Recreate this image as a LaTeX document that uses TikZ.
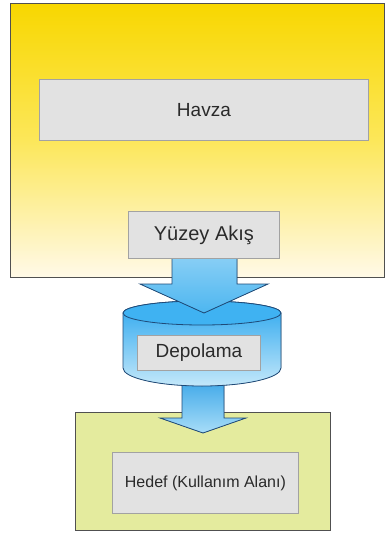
\documentclass[tikz,border=0pt]{standalone}
\usepackage{fontspec}
\setmainfont{Liberation Sans}
\definecolor{ytop}{HTML}{F8D700}
\definecolor{ymid}{HTML}{FCE75A}
\definecolor{ybot}{HTML}{FFF9E8}
\definecolor{boxfill}{HTML}{E2E2E2}
\definecolor{boxline}{HTML}{A2A2A2}
\definecolor{frameline}{HTML}{505050}
\definecolor{greenfill}{HTML}{E4EB9E}
\definecolor{navy}{HTML}{1F4A78}
\definecolor{txt}{HTML}{2A2A2A}
\definecolor{aonetop}{HTML}{9AD6F7}
\definecolor{aonebot}{HTML}{4DB6F0}
\definecolor{atwotop}{HTML}{2FA0E6}
\definecolor{atwobot}{HTML}{A8DDF8}
\definecolor{cyltop}{HTML}{2AA6EE}
\definecolor{cylbot}{HTML}{C4E8FA}
\definecolor{cylcap}{HTML}{3FB2F2}
\begin{document}
\begin{tikzpicture}[x=1pt,y=1pt,
  labelbox/.style={draw=boxline,fill=boxfill,line width=0.8pt,anchor=north west,inner sep=0pt,text=txt},
  blockarrow/.style={draw=navy,line width=0.8pt,line join=miter}]
\useasboundingbox (0,0) rectangle (386,-533);
\fill[white] (0,0) rectangle (386,-533);
% top basin frame
\node[draw=frameline,line width=1pt,top color=ytop,bottom color=ybot,middle color=ymid,
  minimum width=374pt,minimum height=274pt,anchor=north west,inner sep=0pt] (basin) at (10,-3) {};
\node[labelbox,minimum width=329pt,minimum height=61pt] (havza) at (39,-79)
  {\fontsize{19}{22}\selectfont Havza};
% bottom target frame
\node[draw=frameline,line width=1pt,fill=greenfill,
  minimum width=255pt,minimum height=118pt,anchor=north west,inner sep=0pt] (target) at (75,-412) {};
% arrow 2
\filldraw[blockarrow,top color=atwotop,bottom color=atwobot]
  (182,-372) -- (182,-418) -- (160,-418) -- (203,-433) -- (246,-418) -- (224,-418) -- (224,-372) -- cycle;
% cylinder
\filldraw[draw=navy,line width=0.8pt,top color=cyltop,bottom color=cylbot]
  (123,-313) -- (123,-368) arc[start angle=180,end angle=360,x radius=79,y radius=18]
  -- (281,-313) arc[start angle=0,end angle=180,x radius=79,y radius=12] -- cycle;
\filldraw[draw=navy,line width=0.8pt,fill=cylcap] (202,-313) ellipse[x radius=79,y radius=12];
\node[labelbox,minimum width=123pt,minimum height=35pt] (depolama) at (137,-335)
  {\fontsize{19}{22}\selectfont Depolama};
% arrow 1
\filldraw[blockarrow,top color=aonetop,bottom color=aonebot]
  (172,-240) -- (172,-284) -- (140,-284) -- (204,-313) -- (268,-284) -- (237,-284) -- (237,-240) -- cycle;
\node[labelbox,minimum width=151pt,minimum height=47pt] (akis) at (128,-211)
  {\fontsize{20}{24}\selectfont Yüzey Akış};
\node[labelbox,minimum width=186pt,minimum height=61pt] (hedef) at (112,-452)
  {\fontsize{16}{19}\selectfont Hedef (Kullanım Alanı)};
\end{tikzpicture}
\end{document}
